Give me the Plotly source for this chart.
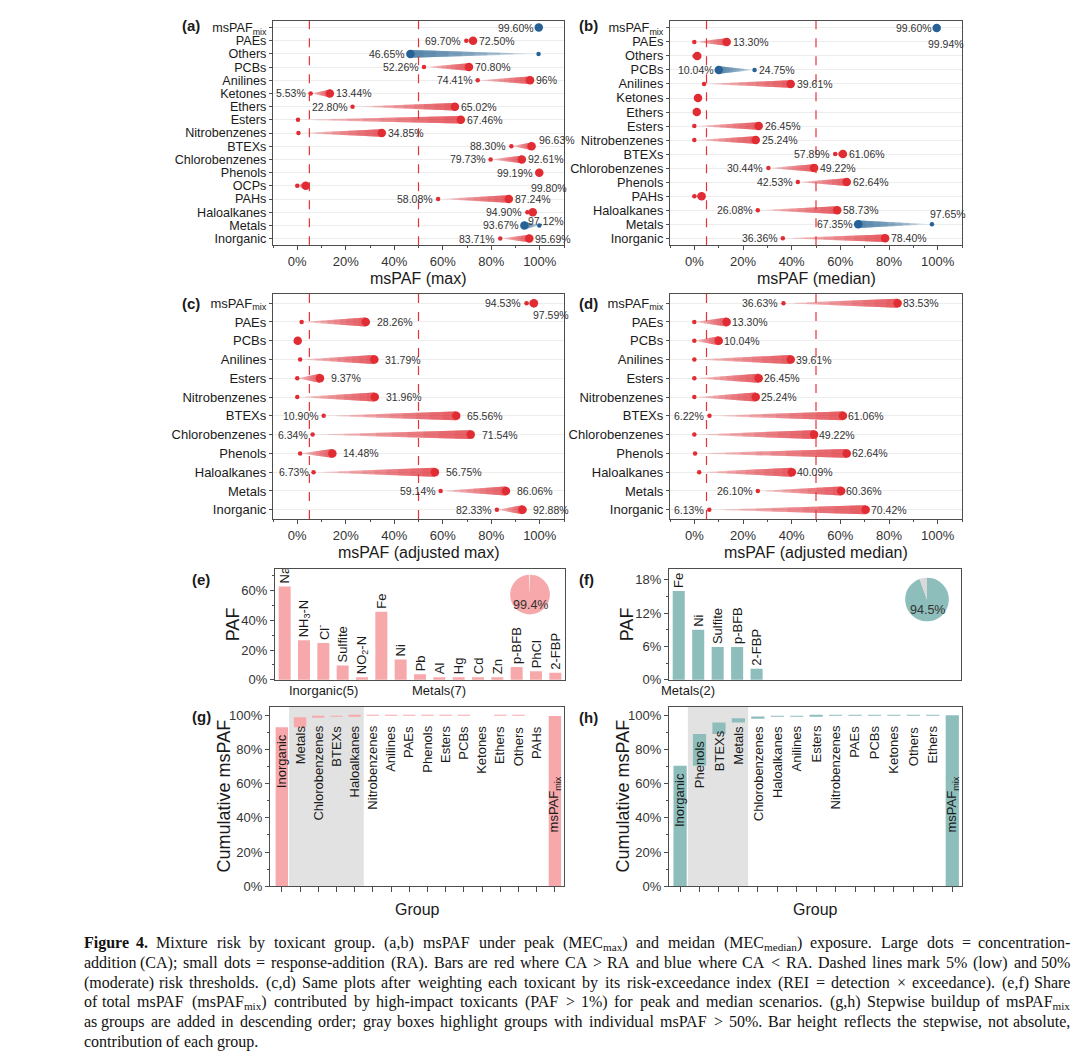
import re
import plotly.graph_objects as go

W, H = 1080, 1057
SANS = "Liberation Sans, Arial, Helvetica, sans-serif"
SERIF = "Liberation Serif, Times New Roman, serif"

# ---------------------------------------------------------------- data
thresholds = [0.05, 0.50]

# (a) msPAF (max): CA = concentration addition (large dot), RA = response addition (small dot)
a_groups = ["msPAF<sub>mix</sub>", "PAEs", "Others", "PCBs", "Anilines", "Ketones", "Ethers", "Esters",
            "Nitrobenzenes", "BTEXs", "Chlorobenzenes", "Phenols", "OCPs", "PAHs", "Haloalkanes",
            "Metals", "Inorganic"]
a_ca = [0.9960, 0.7250, 0.4665, 0.7080, 0.9600, 0.1344, 0.6502, 0.6746, 0.3485, 0.9663, 0.9261,
        0.9980, 0.0350, 0.8724, 0.9712, 0.9367, 0.9569]
a_ra = [0.9990, 0.6970, 0.9950, 0.5226, 0.7441, 0.0553, 0.2280, 0.0030, 0.0050, 0.8830, 0.7973,
        0.9919, 0.0000, 0.5808, 0.9490, 0.9980, 0.8371]
a_ca_lbl = ["99.60%", "72.50%", "46.65%", "70.80%", "96%", "13.44%", "65.02%", "67.46%", "34.85%",
            "96.63%", "92.61%", "99.80%", "", "87.24%", "97.12%", "93.67%", "95.69%"]
a_ra_lbl = ["", "69.70%", "", "52.26%", "74.41%", "5.53%", "22.80%", "", "", "88.30%", "79.73%",
            "99.19%", "", "58.08%", "94.90%", "", "83.71%"]

# (b) msPAF (median)
b_groups = ["msPAF<sub>mix</sub>", "PAEs", "Others", "PCBs", "Anilines", "Ketones", "Ethers", "Esters",
            "Nitrobenzenes", "BTEXs", "Chlorobenzenes", "Phenols", "PAHs", "Haloalkanes", "Metals",
            "Inorganic"]
b_ca = [0.9960, 0.1330, 0.0120, 0.1004, 0.3961, 0.0150, 0.0100, 0.2645, 0.2524, 0.6106, 0.4922,
        0.6264, 0.0300, 0.5873, 0.6735, 0.7840]
b_ra = [0.9994, 0.0000, 0.0010, 0.2475, 0.0400, 0.0100, 0.0060, 0.0000, 0.0000, 0.5789, 0.3044,
        0.4253, 0.0000, 0.2608, 0.9765, 0.3636]
b_ca_lbl = ["99.60%", "13.30%", "", "10.04%", "39.61%", "", "", "26.45%", "25.24%", "61.06%", "49.22%",
            "62.64%", "", "58.73%", "67.35%", "78.40%"]
b_ra_lbl = ["99.94%", "", "", "24.75%", "", "", "", "", "", "57.89%", "30.44%", "42.53%", "",
            "26.08%", "97.65%", "36.36%"]

# (c) msPAF (adjusted max)
c_groups = ["msPAF<sub>mix</sub>", "PAEs", "PCBs", "Anilines", "Esters", "Nitrobenzenes", "BTEXs",
            "Chlorobenzenes", "Phenols", "Haloalkanes", "Metals", "Inorganic"]
c_ca = [0.9759, 0.2826, 0.0020, 0.3179, 0.0937, 0.3196, 0.6556, 0.7154, 0.1448, 0.5675, 0.8606, 0.9288]
c_ra = [0.9453, 0.0180, 0.0000, 0.0120, 0.0000, 0.0000, 0.1090, 0.0634, 0.0120, 0.0673, 0.5914, 0.8233]
c_ca_lbl = ["97.59%", "28.26%", "", "31.79%", "9.37%", "31.96%", "65.56%", "71.54%", "14.48%",
            "56.75%", "86.06%", "92.88%"]
c_ra_lbl = ["94.53%", "", "", "", "", "", "10.90%", "6.34%", "", "6.73%", "59.14%", "82.33%"]

# (d) msPAF (adjusted median)
d_groups = list(c_groups)
d_ca = [0.8353, 0.1330, 0.1004, 0.3961, 0.2645, 0.2524, 0.6106, 0.4922, 0.6264, 0.4009, 0.6036, 0.7042]
d_ra = [0.3663, 0.0000, 0.0000, 0.0000, 0.0000, 0.0000, 0.0622, 0.0000, 0.0030, 0.0200, 0.2610, 0.0613]
d_ca_lbl = ["83.53%", "13.30%", "10.04%", "39.61%", "26.45%", "25.24%", "61.06%", "49.22%", "62.64%",
            "40.09%", "60.36%", "70.42%"]
d_ra_lbl = ["36.63%", "", "", "", "", "", "6.22%", "", "", "", "26.10%", "6.13%"]

# (e) PAF of high-impact toxicants, peak
e_names = ["Na", "NH<sub>3</sub>-N", "Cl<sup>-</sup>", "Sulfite", "NO<sub>2</sub>-N", "Fe", "Ni", "Pb",
           "Al", "Hg", "Cd", "Zn", "p-BFB", "PhCl", "2-FBP"]
e_paf = [0.626, 0.265, 0.247, 0.097, 0.018, 0.457, 0.137, 0.037, 0.018, 0.018, 0.018, 0.018,
         0.086, 0.057, 0.048]
e_sets = [("Inorganic(5)", 0, 4), ("Metals(7)", 5, 11)]
e_share = [99.4, 0.6]

# (f) PAF of high-impact toxicants, median
f_names = ["Fe", "Ni", "Sulfite", "p-BFB", "2-FBP"]
f_paf = [0.160, 0.090, 0.059, 0.059, 0.020]
f_sets = [("Metals(2)", 0, 1)]
f_share = [94.5, 5.5]

# (g) stepwise build-up of msPAF_mix, peak
g_groups = ["Inorganic", "Metals", "Chlorobenzenes", "BTEXs", "Haloalkanes", "Nitrobenzenes", "Anilines",
            "PAEs", "Phenols", "Esters", "PCBs", "Ketones", "Ethers", "Others", "PAHs"]
g_steps = [0.930, 0.058, 0.005, 0.003, 0.002, 0.0003, 0.001, 0.0003, 0.0002, 0.0001, 0.0001,
           0.00005, 0.00005, 0.00003, 0.00002]
g_mix = 0.996
g_high = ["Metals", "Chlorobenzenes", "BTEXs", "Haloalkanes"]

# (h) stepwise build-up of msPAF_mix, median
h_groups = ["Inorganic", "Phenols", "BTEXs", "Metals", "Chlorobenzenes", "Haloalkanes", "Anilines",
            "Esters", "Nitrobenzenes", "PAEs", "PCBs", "Ketones", "Others", "Ethers"]
h_steps = [0.704, 0.186, 0.067, 0.026, 0.009, 0.003, 0.0015, 0.001, 0.0008, 0.0002, 0.0005,
           0.0001, 0.0001, 0.00005]
h_mix = 0.9994
h_high = ["Phenols", "BTEXs", "Metals"]

caption_lead = "Figure 4."
caption = [
    "Figure 4. Mixture risk by toxicant group. (a,b) msPAF under peak (MEC<sub>max</sub>) and meidan (MEC<sub>median</sub>) exposure. Large dots = concentration-",
    "addition (CA); small dots = response-addition (RA). Bars are red where CA &gt; RA and blue where CA &lt; RA. Dashed lines mark 5% (low) and 50%",
    "(moderate) risk thresholds. (c,d) Same plots after weighting each toxicant by its risk-exceedance index (REI = detection × exceedance). (e,f) Share",
    "of total msPAF (msPAF<sub>mix</sub>) contributed by high-impact toxicants (PAF &gt; 1%) for peak and median scenarios. (g,h) Stepwise buildup of msPAF<sub>mix</sub>",
    "as groups are added in descending order; gray boxes highlight groups with individual msPAF &gt; 50%. Bar height reflects the stepwise, not absolute,",
    "contribution of each group.",
]

# ---------------------------------------------------------------- style
RED_RGB = (226, 44, 51)
BLUE_RGB = (38, 98, 150)
RED = "rgb(%d,%d,%d)" % RED_RGB
BLUE = "rgb(%d,%d,%d)" % BLUE_RGB
DASH = "rgb(232,50,58)"
PINK = "rgb(247,168,170)"
TEAL = "rgb(142,190,188)"
SHADE = "#E2E2E2"
AXC = "#4D4D4D"
TXT = "#1A1A1A"
LBL = "#333333"

# panel boxes in pixels (x0, x1, y0, y1)
GEOM = {1: (265, 556, 13, 239), 2: (662, 954, 13, 239), 3: (265, 556, 288, 515), 4: (662, 954, 288, 515),
        5: (267, 557, 565, 677), 6: (661, 953, 565, 677), 7: (262, 556, 704, 885), 8: (661, 954, 704, 885)}


def fx(p):
    return p / W


def fy(p):
    return 1 - p / H


def refs(i):
    s = "" if i == 1 else str(i)
    return "x" + s, "y" + s, "xaxis" + s, "yaxis" + s


def dom(i):
    x0, x1, y0, y1 = GEOM[i]
    return [fx(x0), fx(x1)], [fy(y1), fy(y0)]


fig = go.Figure()
annotations = []
shapes = []
layout = {}


def note(text, x, y, xref="paper", yref="paper", size=13, color=TXT, xanchor="center",
         yanchor="middle", angle=0, family=SANS, xshift=0, yshift=0):
    annotations.append(dict(text=text, x=x, y=y, xref=xref, yref=yref, showarrow=False,
                            font=dict(size=size, color=color, family=family), xanchor=xanchor,
                            yanchor=yanchor, textangle=angle, xshift=xshift, yshift=yshift))


def box_axis(**kw):
    d = dict(showline=True, mirror=True, linecolor=AXC, linewidth=1.2, zeroline=False, showgrid=False,
             ticks="outside", tickcolor=AXC, ticklen=4, tickwidth=1,
             tickfont=dict(size=13, color=LBL, family=SANS))
    d.update(kw)
    return d


# ---------------------------------------------------------------- dumbbell panels
def dumbbell(i, groups, ca, ra, ca_lbl, ra_lbl, title, nudge, half_px, gap_right, cat_size):
    xr, yr, xk, yk = refs(i)
    xd, yd = dom(i)
    n = len(groups)
    rows = list(range(n))
    row_px = (GEOM[i][3] - GEOM[i][2]) / n
    hh = half_px / row_px
    nseg = 10
    for is_red in (True, False):
        idx = [r for r in rows if (ca[r] >= ra[r]) == is_red]
        if not idx:
            continue
        rgb = RED_RGB if is_red else BLUE_RGB
        for k in range(nseg):
            # nested tapers: each layer starts further along and ends at the CA dot
            xs, ys = [], []
            t0 = k / nseg
            for r in idx:
                xa = ra[r] + (ca[r] - ra[r]) * t0
                h0 = hh * t0
                xs += [xa, ca[r], ca[r], xa, xa, None]
                ys += [r - h0, r - hh, r + hh, r + h0, r - h0, None]
            fig.add_trace(go.Scatter(x=xs, y=ys, xaxis=xr, yaxis=yr, mode="lines", fill="toself",
                                     fillcolor="rgba(%d,%d,%d,0.13)" % rgb,
                                     line=dict(width=0), hoverinfo="skip", showlegend=False))
    cols = [RED if ca[r] >= ra[r] else BLUE for r in rows]
    fig.add_trace(go.Scatter(x=ra, y=rows, xaxis=xr, yaxis=yr, mode="markers",
                             marker=dict(size=4.5, color=cols), hoverinfo="skip", showlegend=False))
    fig.add_trace(go.Scatter(x=ca, y=rows, xaxis=xr, yaxis=yr, mode="markers",
                             marker=dict(size=8.5, color=cols), hoverinfo="skip", showlegend=False))
    for r in rows:
        red = ca[r] >= ra[r]
        for which, val, txt in (("ca", ca[r], ca_lbl[r]), ("ra", ra[r], ra_lbl[r])):
            if not txt:
                continue
            key = (groups[r], which)
            if key in nudge:
                xa_, xs_, ya_, ys_ = nudge[key]
            elif (which == "ca") == red:
                xa_, xs_, ya_, ys_ = "left", (gap_right if which == "ca" else 2), "middle", 0
            else:
                xa_, xs_, ya_, ys_ = "right", -3, "middle", 0
            note(txt, val, r, xref=xr, yref=yr, size=10.5, color=LBL, xanchor=xa_, yanchor=ya_,
                 xshift=xs_, yshift=ys_)
    for t in thresholds:
        shapes.append(dict(type="line", xref=xr, yref=yr + " domain", x0=t, x1=t, y0=0, y1=1,
                           line=dict(color=DASH, width=1.2, dash="dash")))
    layout[xk] = box_axis(domain=xd, anchor=yr, range=[-0.1, 1.1], tickmode="linear", tick0=0,
                          dtick=0.2, tickformat=".0%",
                          minor=dict(dtick=0.1, tick0=0, ticks="outside", ticklen=2, tickcolor=AXC))
    layout[yk] = box_axis(domain=yd, anchor=xr, range=[n - 0.5, -0.5], tickmode="array",
                          tickvals=rows, ticktext=groups, ticklen=3, showgrid=True,
                          gridcolor="#EDEDED", gridwidth=1,
                          tickfont=dict(size=cat_size, color=TXT, family=SANS))
    x0, x1, y0, y1 = GEOM[i]
    note(title, fx((x0 + x1) / 2), fy(y1 + 34), size=16, color=TXT)


dumbbell(1, a_groups, a_ca, a_ra, a_ca_lbl, a_ra_lbl, "msPAF (max)",
         {("BTEXs", "ca"): ("left", 5, "bottom", -2),
          ("Phenols", "ca"): ("left", -10, "top", -7),
          ("Haloalkanes", "ca"): ("left", -7, "top", -1)}, 3.8, 4, 12.6)
dumbbell(2, b_groups, b_ca, b_ra, b_ca_lbl, b_ra_lbl, "msPAF (median)",
         {("msPAF<sub>mix</sub>", "ra"): ("left", -12, "top", -8),
          ("Metals", "ra"): ("left", -4, "bottom", 2)}, 3.8, 4, 12.8)
dumbbell(3, c_groups, c_ca, c_ra, c_ca_lbl, c_ra_lbl, "msPAF (adjusted max)",
         {("msPAF<sub>mix</sub>", "ca"): ("left", -3, "top", -4)}, 4.5, 9, 13)
dumbbell(4, d_groups, d_ca, d_ra, d_ca_lbl, d_ra_lbl, "msPAF (adjusted median)", {}, 4.5, 3, 13)


# ---------------------------------------------------------------- PAF bar panels
def paf_panel(i, names, vals, sets, share, color, small_color, ymax, dtick, pie_c, pie_r, pie_txt):
    xr, yr, xk, yk = refs(i)
    xd, yd = dom(i)
    xs = list(range(len(names)))
    fig.add_trace(go.Bar(x=xs, y=vals, xaxis=xr, yaxis=yr, width=0.62, marker=dict(color=color, line=dict(width=0)),
                         text=names, textposition="outside", textangle=-90, constraintext="none",
                         cliponaxis=True, textfont=dict(size=13, color=TXT, family=SANS),
                         hoverinfo="skip", showlegend=False))
    layout[xk] = box_axis(domain=xd, anchor=yr, range=[-0.5, 14.5], showticklabels=False, ticks="")
    layout[yk] = box_axis(domain=yd, anchor=xr, range=[0, ymax], tickmode="linear", tick0=0, dtick=dtick,
                          tickformat=".0%",
                          minor=dict(dtick=dtick / 2, tick0=0, ticks="outside", ticklen=2, tickcolor=AXC))
    for label, s0, s1 in sets:
        note(label, (s0 + s1) / 2, fy(688), xref=xr, yref="paper", size=13, color=TXT)
    cx, cy = pie_c
    fig.add_trace(go.Pie(values=share, sort=False, direction="clockwise", rotation=0,
                         marker=dict(colors=[color, small_color], line=dict(width=0)),
                         textinfo="none", hoverinfo="skip", showlegend=False,
                         domain=dict(x=[fx(cx - pie_r), fx(cx + pie_r)], y=[fy(cy + pie_r), fy(cy - pie_r)])))
    note(pie_txt, fx(cx), fy(cy + 11), size=12.5, color=LBL)
    x0, x1, y0, y1 = GEOM[i]
    note("PAF", fx(x0 - 42), fy((y0 + y1) / 2), size=18, color=TXT, angle=-90)


paf_panel(5, e_names, e_paf, e_sets, e_share, PINK, "#F4F4F4", 0.745, 0.2, (522, 591), 20,
          "%.1f%%" % e_share[0])
paf_panel(6, f_names, f_paf, f_sets, f_share, TEAL, "#D9D9D9", 0.20, 0.06, (919, 596), 22,
          "%.1f%%" % f_share[0])


# ---------------------------------------------------------------- cumulative panels
def cum_panel(i, groups, steps, mix, high, color, xrange_):
    xr, yr, xk, yk = refs(i)
    xd, yd = dom(i)
    cats = groups + ["msPAF<sub>mix</sub>"]
    xs = list(range(len(cats)))
    bases, tops, c = [], [], 0.0
    for s in steps:
        bases.append(c)
        c += s
        tops.append(c)
    bases.append(0.0)
    tops.append(mix)
    hi = [groups.index(g) for g in high]
    shapes.append(dict(type="rect", xref=xr, yref=yr + " domain", x0=min(hi) - 0.6, x1=max(hi) + 0.5,
                       y0=0, y1=1, fillcolor=SHADE, line=dict(width=0), layer="below"))
    fig.add_trace(go.Bar(x=xs, y=steps + [mix], base=bases, xaxis=xr, yaxis=yr, width=0.68,
                         marker=dict(color=color, line=dict(width=0)), hoverinfo="skip", showlegend=False))
    for k, name in enumerate(cats):
        if k < len(groups):
            note(name, k, min(tops[k], 0.98) - 0.03, xref=xr, yref=yr, size=13, color=TXT,
                 yanchor="top", angle=-90)
        else:
            note(name, k, mix / 2 - 0.02, xref=xr, yref=yr, size=13, color=TXT, angle=-90)
    layout[xk] = box_axis(domain=xd, anchor=yr, range=xrange_, tickmode="array", tickvals=xs,
                          showticklabels=False, ticklen=5)
    layout[yk] = box_axis(domain=yd, anchor=xr, range=[0, 1.05], tickmode="linear", tick0=0, dtick=0.2,
                          tickformat=".0%",
                          minor=dict(dtick=0.1, tick0=0, ticks="outside", ticklen=2, tickcolor=AXC))
    x0, x1, y0, y1 = GEOM[i]
    note("Cumulative msPAF", fx(x0 - 46), fy((y0 + y1) / 2), size=18, color=TXT, angle=-90)
    note("Group", fx((x0 + x1) / 2), fy(y1 + 23), size=16, color=TXT)


cum_panel(7, g_groups, g_steps, g_mix, g_high, PINK, [-0.65, 15.5])
cum_panel(8, h_groups, h_steps, h_mix, h_high, TEAL, [-0.57, 14.5])

# ---------------------------------------------------------------- panel letters
for letter, (px_, py_) in zip("abcdefgh", [(183, 18), (580, 18), (183, 298), (580, 298),
                                           (193, 576), (578, 576), (193, 714), (580, 715)]):
    note("<b>(%s)</b>" % letter, fx(px_), fy(py_), size=15, color=TXT)

# ---------------------------------------------------------------- caption (justified, word by word)
# Times / Liberation Serif advance widths (1/1000 em)
_TR = {' ': 250, '!': 333, '%': 833, '&': 778, '(': 333, ')': 333, '*': 500, '+': 564, ',': 250, '-': 333,
       '.': 250, '/': 278, ':': 278, ';': 278, '<': 564, '=': 564, '>': 564, '?': 444, '×': 564,
       'A': 722, 'B': 667, 'C': 667, 'D': 722, 'E': 611, 'F': 556, 'G': 722, 'H': 722, 'I': 333, 'J': 389,
       'K': 722, 'L': 611, 'M': 889, 'N': 722, 'O': 722, 'P': 556, 'Q': 722, 'R': 667, 'S': 556, 'T': 611,
       'U': 722, 'V': 722, 'W': 944, 'X': 722, 'Y': 722, 'Z': 611,
       'a': 444, 'b': 500, 'c': 444, 'd': 500, 'e': 444, 'f': 333, 'g': 500, 'h': 500, 'i': 278, 'j': 278,
       'k': 500, 'l': 278, 'm': 778, 'n': 500, 'o': 500, 'p': 500, 'q': 500, 'r': 333, 's': 389, 't': 278,
       'u': 500, 'v': 500, 'w': 722, 'x': 500, 'y': 500, 'z': 444}
_TB = dict(_TR)
_TB.update({'F': 611, 'i': 278, 'g': 500, 'u': 556, 'r': 444, 'e': 444, '.': 250})
for d in "0123456789":
    _TR[d] = 500
    _TB[d] = 500


def measure(word, size):
    w, bold, scale = 0.0, False, 1.0
    for tok in re.split(r"(<[^>]+>)", word):
        if not tok:
            continue
        if re.fullmatch(r"</?(b|sub|sup)>", tok):
            if tok == "<b>":
                bold = True
            elif tok == "</b>":
                bold = False
            elif tok in ("<sub>", "<sup>"):
                scale = 0.7
            else:
                scale = 1.0
            continue
        tok = tok.replace("&gt;", ">").replace("&lt;", "<").replace("&amp;", "&")
        table = _TB if bold else _TR
        for ch in tok:
            w += table.get(ch, 500) * size * scale / 1000.0
    return w


CAP_X0, CAP_X1, CAP_Y0, CAP_DY, CAP_SIZE = 74, 1064, 942, 20, 16
lines_words = []
for k, line in enumerate(caption):
    words = line.split(" ")
    if k == 0:
        nlead = len(caption_lead.split(" "))
        words = ["<b>%s</b>" % w for w in words[:nlead]] + words[nlead:]
    lines_words.append(words)
size = CAP_SIZE
for words in lines_words[:-1]:
    need = sum(measure(w, size) for w in words) + 0.15 * size * (len(words) - 1)
    if need > CAP_X1 - CAP_X0:
        size *= (CAP_X1 - CAP_X0) / need
for k, words in enumerate(lines_words):
    widths = [measure(w, size) for w in words]
    ytop = fy(CAP_Y0 - 11 + CAP_DY * k)
    last_line = k == len(lines_words) - 1
    gap = 0.25 * size if last_line else (CAP_X1 - CAP_X0 - sum(widths)) / (len(words) - 1)
    x = CAP_X0
    for j, (w, wd) in enumerate(zip(words, widths)):
        if j == 0 or last_line:
            xa, xp = "left", x
        elif j == len(words) - 1:
            xa, xp = "right", CAP_X1
        else:
            xa, xp = "center", x + wd / 2
        note(w, fx(xp), ytop, size=size, color="#111111", xanchor=xa, yanchor="top", family=SERIF)
        x += wd + gap

fig.update_layout(width=W, height=H, autosize=False, margin=dict(l=0, r=0, t=0, b=0),
                  paper_bgcolor="white", plot_bgcolor="white", showlegend=False,
                  font=dict(family=SANS, color=TXT), annotations=annotations, shapes=shapes,
                  bargap=0.3, **layout)
fig.write_html("out.html")
